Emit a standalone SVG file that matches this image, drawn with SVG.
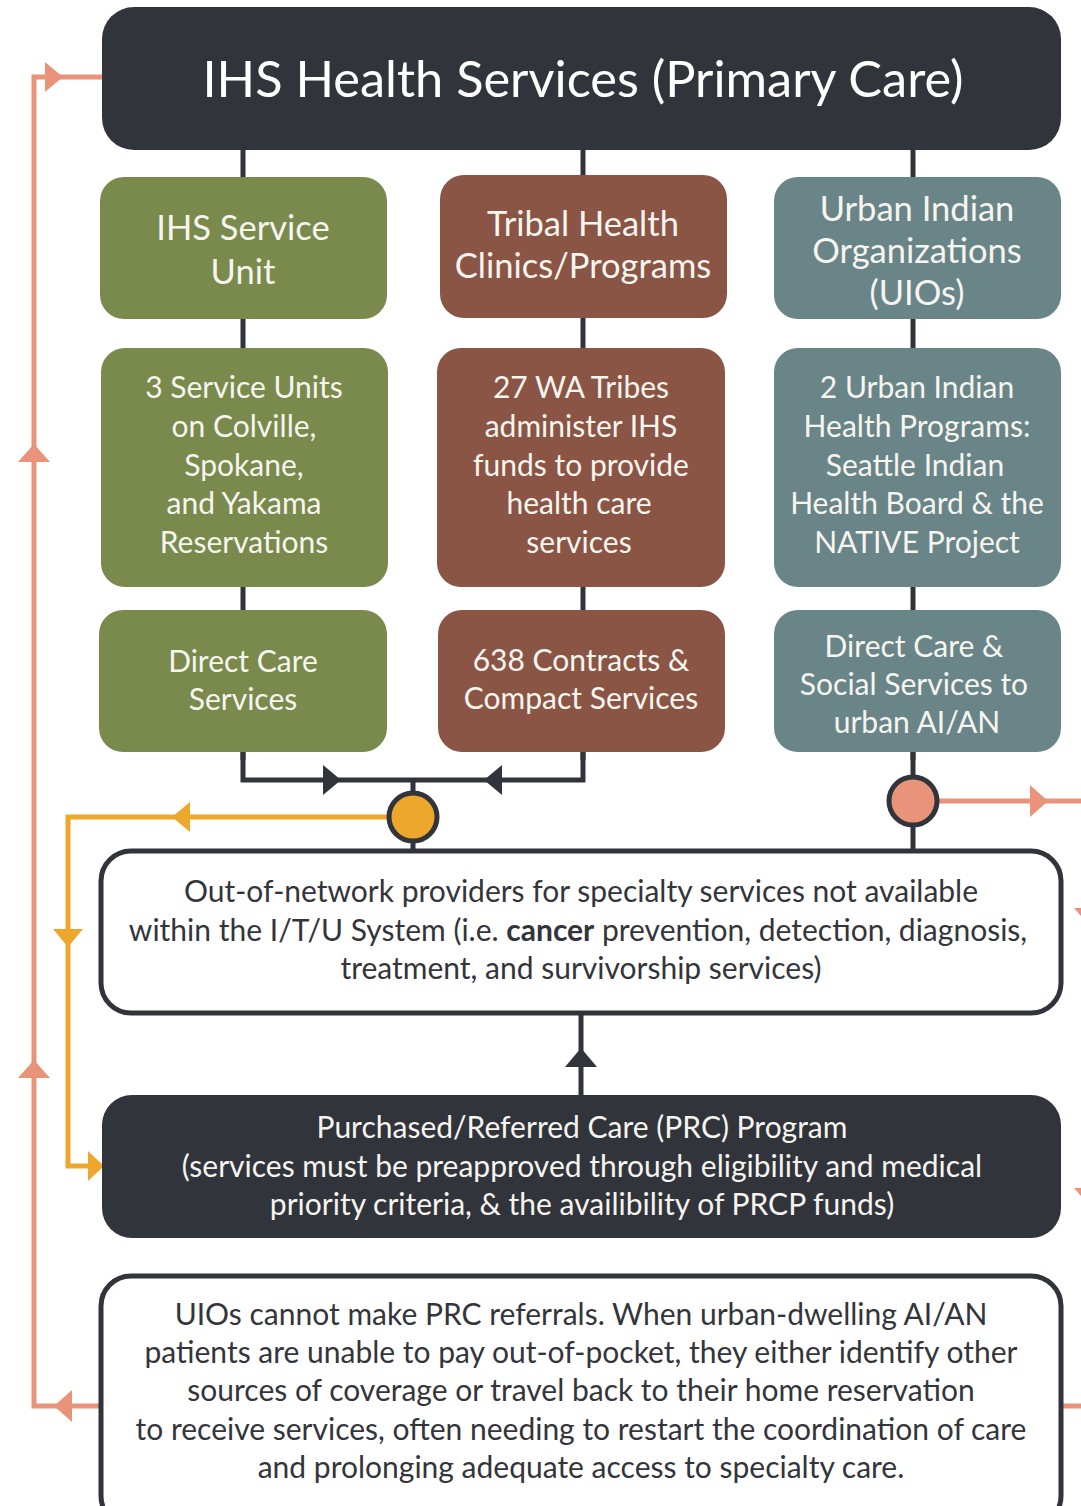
<svg xmlns="http://www.w3.org/2000/svg" width="1081" height="1506" viewBox="0 0 1081 1506">
  <style>
    text { font-family: Lato, "Open Sans", sans-serif; text-anchor: middle; }
    .lt { fill: #f6f5ef; }
    .dk { fill: #33353b; }
    .title { font-size: 50.5px; fill: #ffffff; }
    .h1 { font-size: 34.5px; }
    .b2 { font-size: 30px; }
    .green { fill: #798a4c; }
    .brown { fill: #8a5545; }
    .teal { fill: #6a8588; }
    .dark { fill: #31343b; }
    .wire { stroke: #31343b; stroke-width: 5; fill: none; }
    .salmon { stroke: #e8937a; stroke-width: 5; fill: none; }
    .gold { stroke: #eca72c; stroke-width: 5; fill: none; }
  </style>

  <!-- connectors -->
  <g id="connectors">
    <!-- column spines -->
    <path class="wire" d="M243 150V760M583 150V760M913 150V760"/>
    <!-- merge of IHS + tribal columns -->
    <path class="wire" d="M243 752V780H583V752M413 780V852"/>
    <polygon points="323,765 341,780 323,795" fill="#31343b"/>
    <polygon points="502,765 484,780 502,795" fill="#31343b"/>
    <!-- UIO branch -->
    <path class="wire" d="M913 752V852"/>
    <!-- PRC up to out-of-network -->
    <path class="wire" d="M581 1013V1095"/>
    <polygon points="565,1067 581,1048 597,1067" fill="#31343b"/>

    <!-- salmon feedback loop on the left -->
    <path class="salmon" d="M100 1406H34V77H102"/>
    <polygon points="45,62 63,77 45,92" fill="#e8937a"/>
    <polygon points="18,462 34,444 50,462" fill="#e8937a"/>
    <polygon points="18,1078 34,1060 50,1078" fill="#e8937a"/>
    <polygon points="72,1390 54,1406 72,1422" fill="#e8937a"/>
    <!-- salmon branch leaving to the right -->
    <path class="salmon" d="M937 801H1081"/>
    <polygon points="1030,785 1048,801 1030,817" fill="#e8937a"/>
    <polygon points="1074,908 1106,908 1090,926" fill="#e8937a"/>
    <polygon points="1074,1188 1106,1188 1090,1206" fill="#e8937a"/>
    <path class="salmon" d="M1063 1406H1081"/>

    <!-- gold path to PRC -->
    <path class="gold" d="M389 817H68V1166H90"/>
    <polygon points="190,802 172,817 190,832" fill="#eca72c"/>
    <polygon points="53,929 68,947 83,929" fill="#eca72c"/>
    <polygon points="88,1151 104,1166 88,1181" fill="#eca72c"/>

    <!-- junction dots -->
    <circle cx="413" cy="817" r="24" fill="#eca72c" stroke="#31343b" stroke-width="5"/>
    <circle cx="913" cy="801" r="24" fill="#e8937a" stroke="#31343b" stroke-width="5"/>
  </g>

  <g id="ihs-primary-care">
    <rect class="dark" x="102" y="7" width="959" height="143" rx="32"/>
    <text class="title" x="583" y="97">IHS Health Services (Primary Care)</text>
  </g>

  <g id="ihs-service-unit">
    <rect class="green" x="100" y="177" width="287" height="142" rx="24"/>
    <text class="h1 lt" x="243" y="240">IHS Service</text>
    <text class="h1 lt" x="243" y="284">Unit</text>
  </g>
  <g id="tribal-clinics">
    <rect class="brown" x="440" y="175" width="287" height="143" rx="24"/>
    <text class="h1 lt" x="583" y="236">Tribal Health</text>
    <text class="h1 lt" x="583" y="278">Clinics/Programs</text>
  </g>
  <g id="urban-indian-orgs">
    <rect class="teal" x="774" y="177" width="287" height="142" rx="24"/>
    <text class="h1 lt" x="917" y="221">Urban Indian</text>
    <text class="h1 lt" x="917" y="263">Organizations</text>
    <text class="h1 lt" x="917" y="305">(UIOs)</text>
  </g>

  <g id="service-units">
    <rect class="green" x="101" y="348" width="287" height="239" rx="24"/>
    <text class="b2 lt" x="244" y="398">3 Service Units</text>
    <text class="b2 lt" x="244" y="437">on Colville,</text>
    <text class="b2 lt" x="244" y="476">Spokane,</text>
    <text class="b2 lt" x="244" y="514">and Yakama</text>
    <text class="b2 lt" x="244" y="553">Reservations</text>
  </g>
  <g id="wa-tribes">
    <rect class="brown" x="437" y="348" width="288" height="239" rx="24"/>
    <text class="b2 lt" x="581" y="398">27 WA Tribes</text>
    <text class="b2 lt" x="581" y="437">administer IHS</text>
    <text class="b2 lt" x="581" y="476">funds to provide</text>
    <text class="b2 lt" x="579" y="514">health care</text>
    <text class="b2 lt" x="579" y="553">services</text>
  </g>
  <g id="urban-programs">
    <rect class="teal" x="774" y="348" width="287" height="239" rx="24"/>
    <text class="b2 lt" x="917" y="398">2 Urban Indian</text>
    <text class="b2 lt" x="917" y="437">Health Programs:</text>
    <text class="b2 lt" x="915" y="476">Seattle Indian</text>
    <text class="b2 lt" x="917" y="514">Health Board &amp; the</text>
    <text class="b2 lt" x="917" y="553">NATIVE Project</text>
  </g>

  <g id="direct-care">
    <rect class="green" x="99" y="610" width="288" height="142" rx="24"/>
    <text class="b2 lt" x="243" y="672">Direct Care</text>
    <text class="b2 lt" x="243" y="710">Services</text>
  </g>
  <g id="contracts-compacts">
    <rect class="brown" x="438" y="610" width="287" height="142" rx="24"/>
    <text class="b2 lt" x="581" y="671">638 Contracts &amp;</text>
    <text class="b2 lt" x="581" y="709">Compact Services</text>
  </g>
  <g id="urban-direct-care">
    <rect class="teal" x="774" y="610" width="287" height="142" rx="24"/>
    <text class="b2 lt" x="914" y="657">Direct Care &amp;</text>
    <text class="b2 lt" x="914" y="695">Social Services to</text>
    <text class="b2 lt" x="917" y="733">urban AI/AN</text>
  </g>

  <g id="out-of-network">
    <rect x="101" y="851" width="960" height="162" rx="30" fill="#ffffff" stroke="#31343b" stroke-width="5"/>
    <text class="b2 dk" x="581" y="902">Out-of-network providers for specialty services not available</text>
    <text class="b2 dk" x="578" y="941">within the I/T/U System (i.e. <tspan font-weight="bold">cancer</tspan> prevention, detection, diagnosis,</text>
    <text class="b2 dk" x="581" y="979">treatment, and survivorship services)</text>
  </g>

  <g id="prc-program">
    <rect class="dark" x="102" y="1095" width="959" height="143" rx="30"/>
    <text class="b2 lt" x="582" y="1138">Purchased/Referred Care (PRC) Program</text>
    <text class="b2 lt" x="582" y="1177">(services must be preapproved through eligibility and medical</text>
    <text class="b2 lt" x="582" y="1215">priority criteria, &amp; the availibility of PRCP funds)</text>
  </g>

  <g id="uio-note">
    <rect x="101" y="1276" width="960" height="250" rx="30" fill="#ffffff" stroke="#31343b" stroke-width="5"/>
    <text class="b2 dk" x="581" y="1325">UIOs cannot make PRC referrals. When urban-dwelling AI/AN</text>
    <text class="b2 dk" x="581" y="1363">patients are unable to pay out-of-pocket, they either identify other</text>
    <text class="b2 dk" x="581" y="1401">sources of coverage or travel back to their home reservation</text>
    <text class="b2 dk" x="581" y="1440">to receive services, often needing to restart the coordination of care</text>
    <text class="b2 dk" x="581" y="1478">and prolonging adequate access to specialty care.</text>
  </g>
</svg>
